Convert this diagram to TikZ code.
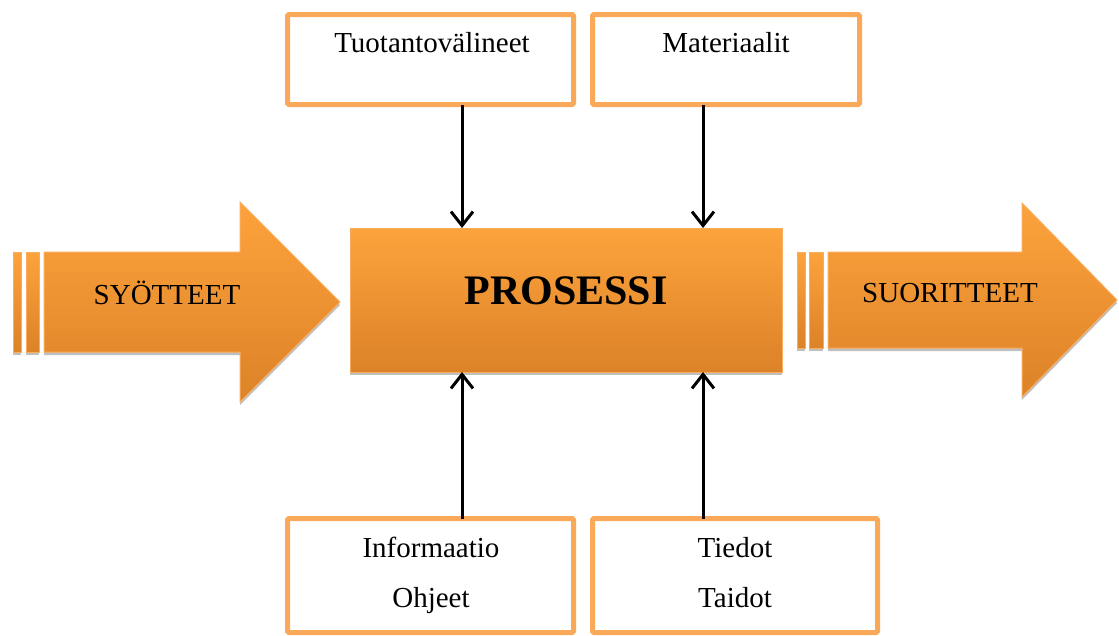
\documentclass[tikz,border=0pt]{standalone}
\usepackage{fontspec}
\setmainfont{Liberation Serif}
\usetikzlibrary{arrows.meta,shadows}

\definecolor{ortop}{RGB}{253,163,60}
\definecolor{orbot}{RGB}{220,130,40}
\definecolor{oredge}{RGB}{250,172,92}
\definecolor{frame}{RGB}{250,168,90}

\tikzset{
  lbl/.style={font=\fontsize{29}{34}\selectfont, inner sep=0pt, anchor=base},
  inbox/.style={draw=frame, line width=5pt, fill=white, rounded corners=1.5pt,
                inner sep=0pt, outer sep=0pt},
  orangefill/.style={shading=axis, top color=ortop, bottom color=orbot,
                     draw=oredge, line width=1pt},
  softshadow/.style={drop shadow={shadow xshift=0pt, shadow yshift=-3pt,
                     opacity=0.25, fill=black}},
  flow/.style={line width=3pt, -{Straight Barb[length=14pt,width=22pt]}}
}

\begin{document}
\begin{tikzpicture}[x=1pt, y=-1pt]
  \useasboundingbox (0,0) rectangle (1119,635);

  % input arrow with its two bars
  \path[orangefill, softshadow] (13,252) rectangle (21,352);
  \path[orangefill, softshadow] (26,252) rectangle (39,352);
  \path[orangefill, softshadow] (44,252) -- (240,252) -- (240,202) -- (340,302)
        -- (240,402) -- (240,352) -- (44,352) -- cycle;
  \node[lbl] (in) at (167,304) {SYÖTTEET};

  % output arrow with its two bars
  \path[orangefill, softshadow] (797,252) rectangle (805,348);
  \path[orangefill, softshadow] (809,252) rectangle (823,348);
  \path[orangefill, softshadow] (828,252) -- (1022,252) -- (1022,203) -- (1117,300)
        -- (1022,397) -- (1022,348) -- (828,348) -- cycle;
  \node[lbl] (out) at (950,302) {SUORITTEET};

  % central process
  \node[orangefill, softshadow, minimum width=432pt, minimum height=144pt,
        inner sep=0pt, outer sep=0pt] (proc) at (566,300) {};
  \node[font=\fontsize{42}{48}\selectfont\bfseries, inner sep=0pt, anchor=base]
        (proctext) at (566,304) {PROSESSI};

  % resource boxes above
  \node[inbox, minimum width=286pt, minimum height=90pt] (tl) at (430.5,59.5) {};
  \node[inbox, minimum width=267pt, minimum height=90pt] (tr) at (726,59.5) {};
  \node[lbl] (tltext) at (432,52) {Tuotantovälineet};
  \node[lbl] (trtext) at (726,52) {Materiaalit};

  % guidance boxes below
  \node[inbox, minimum width=286pt, minimum height=114pt] (bl) at (430.5,575.5) {};
  \node[inbox, minimum width=285pt, minimum height=114pt] (br) at (735,575.5) {};
  \node[lbl] (bltext1) at (431,557) {Informaatio};
  \node[lbl] (bltext2) at (431,607) {Ohjeet};
  \node[lbl] (brtext1) at (735,557) {Tiedot};
  \node[lbl] (brtext2) at (735,607) {Taidot};

  % connector columns
  \coordinate (c1) at (462,0);
  \coordinate (c2) at (703,0);

  \draw[flow] (tl.south -| c1) -- (proc.north -| c1);
  \draw[flow] (tr.south -| c2) -- (proc.north -| c2);
  \draw[flow] (bl.north -| c1) -- (proc.south -| c1);
  \draw[flow] (br.north -| c2) -- (proc.south -| c2);
\end{tikzpicture}
\end{document}
